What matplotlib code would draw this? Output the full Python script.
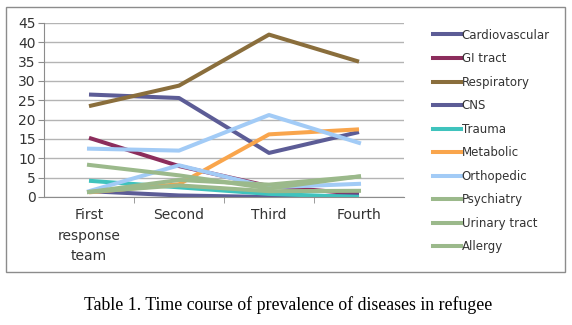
import numpy as np
from matplotlib import pyplot as plt
from matplotlib.lines import Line2D
from matplotlib.patches import Rectangle

# categories (survey rounds)
stages = ["First\nresponse\nteam", "Second", "Third", "Fourth"]

# prevalence per disease
cardiovascular = [26.5, 25.6, 11.4, 16.8]
gi_tract = [15.3, 8.0, 2.8, 0.8]
respiratory = [23.5, 28.8, 42.0, 35.0]
cns = [1.5, 0.4, 0.0, 0.4]
trauma = [4.2, 2.5, 0.8, 0.0]
metabolic = [1.2, 3.3, 16.2, 17.5]
orthopedic = [12.5, 12.0, 21.2, 14.0]
psychiatry = [8.3, 5.6, 2.2, 5.3]
urinary_tract = [1.3, 4.4, 3.2, 5.3]
allergy = [1.3, 3.0, 1.5, 1.6]
unlabeled = [1.5, 8.2, 2.5, 3.4]

names = ["Cardiovascular", "GI tract", "Respiratory", "CNS", "Trauma",
         "Metabolic", "Orthopedic", "Psychiatry", "Urinary tract", "Allergy"]
series = [cardiovascular, gi_tract, respiratory, cns, trauma,
          metabolic, orthopedic, psychiatry, urinary_tract, allergy]
colors = ["#5c5c96", "#8c2d5c", "#8a6e3c", "#5c5c96", "#3fc3bd",
          "#f9a54c", "#a2cbf6", "#9bb98b", "#9bb98b", "#9bb98b"]

fig = plt.figure(figsize=(5.72, 3.25), dpi=100)
ax = fig.add_axes([44 / 572, 1 - 197 / 325, 360 / 572, 174 / 325])

x = np.arange(len(stages))
# draw order so the light/green lines sit on top like the original
for i in [0, 2, 1, 3, 4, 5]:
    ax.plot(x, series[i], color=colors[i], lw=2.9, solid_capstyle="butt")
ax.plot(x, unlabeled, color="#a2cbf6", lw=2.9)
ax.plot(x, orthopedic, color=colors[6], lw=2.9)
for i in [7, 8, 9]:
    ax.plot(x, series[i], color=colors[i], lw=2.9)

ax.set_xlim(-0.5, 3.5)
ax.set_ylim(0, 45)
ax.set_yticks(range(0, 46, 5))
ax.grid(axis="y", color="#b4b4b4", lw=1)
ax.set_axisbelow(True)
for s in ["top", "right"]:
    ax.spines[s].set_visible(False)
ax.spines["left"].set_color("#8c8c8c")
ax.spines["bottom"].set_color("#8c8c8c")
ax.tick_params(axis="y", length=4, color="#8c8c8c", labelsize=10, pad=2,
               labelcolor="#333333")
ax.set_xticks(x)
ax.set_xticklabels(stages, fontsize=10, color="#333333", linespacing=1.6)
ax.tick_params(axis="x", length=0, pad=8)
ax.set_xticks([0.5, 1.5, 2.5], minor=True)
ax.tick_params(axis="x", which="minor", length=4, color="#8c8c8c")

handles = [Line2D([0], [0], color=c, lw=2.9) for c in colors]
fig.legend(handles, names, loc="upper left", bbox_to_anchor=(422 / 572, 1 - 18 / 325),
           frameon=False, fontsize=8.5, handlelength=2.4, handletextpad=0.05,
           labelspacing=0.89, labelcolor="#333333")

# outer chart frame
fig.patches.append(Rectangle((6 / 572, 1 - 272 / 325), 559 / 572, 265 / 325,
                             transform=fig.transFigure, fill=False,
                             ec="#8c8c8c", lw=1))

fig.text(288 / 572, 1 - 305 / 325,
         "Table 1. Time course of prevalence of diseases in refugee",
         ha="center", va="center", family="Liberation Serif", fontsize=12.8)

fig.savefig("out.png", dpi=100)
